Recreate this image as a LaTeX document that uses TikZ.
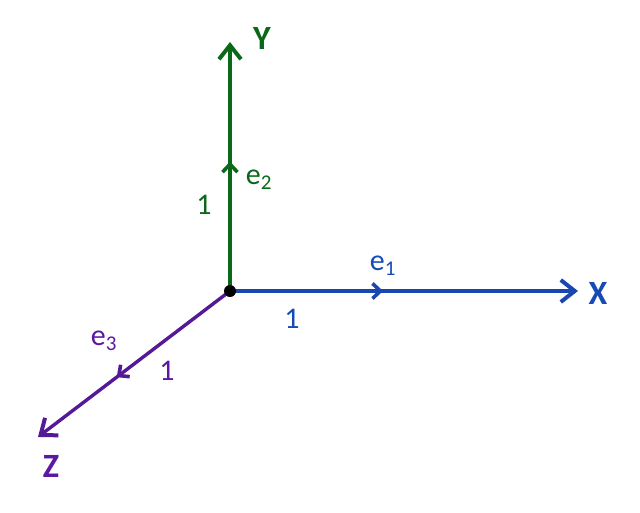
\documentclass[tikz,border=0pt]{standalone}
\usepackage{fontspec}
\setmainfont{Carlito}
\usetikzlibrary{arrows.meta,decorations.markings}
\definecolor{xblue}{RGB}{25,70,175}
\definecolor{xlab}{RGB}{20,75,180}
\definecolor{ygreen}{RGB}{10,105,25}
\definecolor{zpurple}{RGB}{85,25,150}
\definecolor{zlab}{RGB}{90,25,160}
\tikzset{
  axis/.style={line width=3.4pt, -{Straight Barb[length=14pt,width=22pt,line width=4pt]}},
  midarrow/.style={postaction={decorate},decoration={markings,
     mark=at position #1 with {\arrow{Straight Barb[length=8pt,width=15pt,line width=3.6pt]}}}},
  axlab/.style={font=\bfseries\fontsize{34}{34}\selectfont},
  smlab/.style={font=\fontsize{30}{30}\selectfont},
}
\begin{document}
\begin{tikzpicture}[x=1pt,y=-1pt]
\useasboundingbox (0,0) rectangle (640,512);
\coordinate (O) at (230,291);
\coordinate (Xe) at (578,291);
\coordinate (Ye) at (230,42);
\coordinate (Ze) at (38,437);
\draw[axis, xblue, midarrow=0.44] (O) -- (Xe);
\draw[axis, ygreen, midarrow=0.52] (O) -- (Ye);
\draw[axis, zpurple, midarrow=0.59] (O) -- (Ze);
\fill[black] (O) circle (6);
\node[axlab, xlab] (xl) at (598,293) {X};
\node[axlab, ygreen] (yl) at (262,38) {Y};
\node[axlab, zlab] (zl) at (51,466) {Z};
\node[smlab, xlab] (e1) at (383,266) {e\textsubscript{1}};
\node[smlab, ygreen] (e2) at (259,180) {e\textsubscript{2}};
\node[smlab, zlab] (e3) at (104,341) {e\textsubscript{3}};
\node[smlab, xlab] (n1) at (292,319) {1};
\node[smlab, ygreen] (n2) at (204,205) {1};
\node[smlab, zlab] (n3) at (167,371) {1};
\end{tikzpicture}
\end{document}
